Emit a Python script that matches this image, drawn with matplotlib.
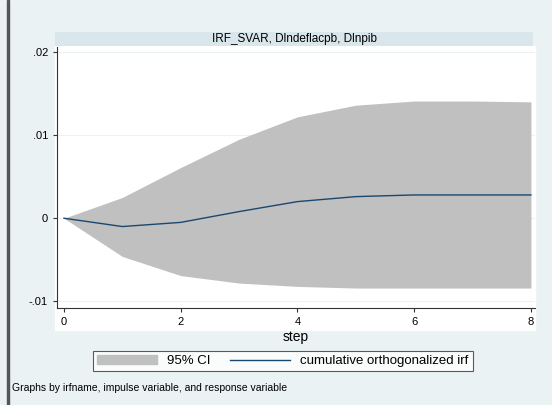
import matplotlib.pyplot as plt
from matplotlib.patches import Rectangle

step = [0, 1, 2, 3, 4, 5, 6, 7, 8]
irf = [0, -0.0010, -0.0005, 0.0008, 0.0020, 0.0026, 0.0028, 0.0028, 0.0028]
upper = [0, 0.0025, 0.0061, 0.0095, 0.0122, 0.0136, 0.0141, 0.0141, 0.0140]
lower = [0, -0.0046, -0.0069, -0.0078, -0.0082, -0.0084, -0.0084, -0.0084, -0.0084]

W, H = 552, 405
plt.rcParams['font.family'] = 'Liberation Sans'
fig = plt.figure(figsize=(5.52, 4.05), dpi=100)
fig.patch.set_facecolor('#eaf2f3')

# left border line of the graph region
fig.add_artist(Rectangle((7 / W, 0), 2 / W, 1, transform=fig.transFigure, color='#555555'))

# white plot region
fig.add_artist(Rectangle((55 / W, (H - 330) / H), 480 / W, 284 / H,
                         transform=fig.transFigure, color='white', zorder=0))

ax = fig.add_axes([57 / W, (H - 308) / H, 478 / W, 261 / H])
ax.set_facecolor('white')
ax.fill_between(step, lower, upper, color='#c0c0c0', linewidth=0)
ax.plot(step, irf, color='#1a476f', linewidth=1)
ax.set_xlim(-0.12, 8.07)
ax.set_ylim(-0.0108, 0.0206)
ax.set_xticks([0, 2, 4, 6, 8])
ax.set_yticks([-0.01, 0, 0.01, 0.02])
ax.set_yticklabels(['-.01', '0', '.01', '.02'])
ax.grid(axis='y', color='#eaf2f3', linewidth=0.8)
ax.set_axisbelow(True)
for s in ['top', 'right']:
    ax.spines[s].set_visible(False)
for s in ['left', 'bottom']:
    ax.spines[s].set_color('#333333')
ax.tick_params(labelsize=8, length=3, color='#333333')
ax.set_xlabel('step', fontsize=10, labelpad=2)

# title strip
tax = fig.add_axes([55 / W, (H - 46) / H, 478 / W, 14 / H])
tax.set_facecolor('#d9e6eb')
tax.set_xticks([])
tax.set_yticks([])
for s in tax.spines.values():
    s.set_visible(False)
tax.text(0.5, 0.5, 'IRF_SVAR, Dlndeflacpb, Dlnpib', ha='center', va='center', fontsize=8.5)

# legend
h1 = Rectangle((0, 0), 1, 1, color='#c0c0c0')
h2, = ax.plot([], [], color='#1a476f', linewidth=1)
leg = fig.legend([h1, h2], ['95% CI', 'cumulative orthogonalized irf'], ncol=2,
                 loc='center', bbox_to_anchor=(283 / W, (H - 361) / H),
                 fontsize=9.5, frameon=True, fancybox=False, handlelength=4.5,
                 columnspacing=1.5, borderpad=0.3)
leg.get_frame().set_edgecolor('#333333')
leg.get_frame().set_linewidth(0.8)

fig.text(12 / W, (H - 388) / H, 'Graphs by irfname, impulse variable, and response variable',
         fontsize=7.5, va='center')

fig.savefig('out.png', dpi=100, facecolor=fig.get_facecolor())
